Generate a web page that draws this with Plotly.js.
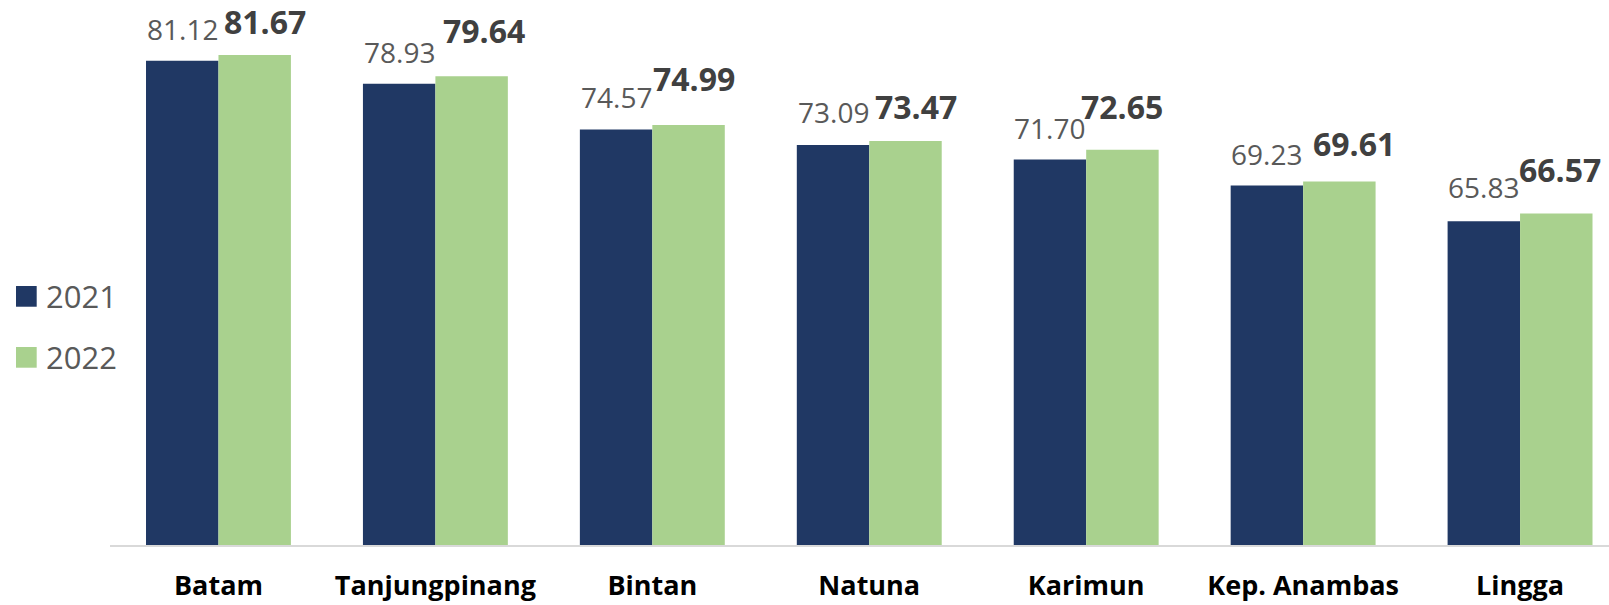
<!DOCTYPE html>
<html>
<head>
<meta charset="utf-8">
<script src="https://cdn.plot.ly/plotly-3.0.1.min.js"></script>
<style>
html,body{margin:0;padding:0;background:#fff;overflow:hidden;}
#chart{width:1609px;height:605px;}
</style>
</head>
<body>
<div id="chart"></div>
<script>
const categories = ['Batam', 'Tanjungpinang', 'Bintan', 'Natuna', 'Karimun', 'Kep. Anambas', 'Lingga'];
const seriesNames = ['2021', '2022'];
const values2021 = [81.12, 78.93, 74.57, 73.09, 71.70, 69.23, 65.83];
const values2022 = [81.67, 79.64, 74.99, 73.47, 72.65, 69.61, 66.57];

// label placement tweaks (pixels), as the labels were hand-placed in the original
const lift2021 = [20, 19.5, 20.5, 21, 20, 20, 22];
const lift2022 = [20, 32.5, 33, 21, 30, 24.7, 31];
const nudge2022 = [10, 12, 5, 11, 0, 15, 4];

const colors = ['#203864', '#A9D18E'];
const FONT = '"Open Sans", "Noto Sans", sans-serif';
const HALF_BAR = 36.2;

const traces = [
  {type: 'bar', name: seriesNames[0], x: categories, y: values2021,
   marker: {color: colors[0]}, hoverinfo: 'x+y'},
  {type: 'bar', name: seriesNames[1], x: categories, y: values2022,
   marker: {color: colors[1]}, hoverinfo: 'x+y'}
];

const annotations = [];
categories.forEach((c, i) => {
  annotations.push({
    x: c, y: values2021[i], xref: 'x', yref: 'y',
    text: values2021[i].toFixed(2), showarrow: false,
    xanchor: 'center', yanchor: 'bottom', xshift: -HALF_BAR, yshift: lift2021[i] - 9.2,
    font: {family: FONT, size: 28, color: '#595959'}
  });
  annotations.push({
    x: c, y: values2022[i], xref: 'x', yref: 'y',
    text: '<b>' + values2022[i].toFixed(2) + '</b>', showarrow: false,
    xanchor: 'center', yanchor: 'bottom', xshift: HALF_BAR + nudge2022[i], yshift: lift2022[i] - 10.4,
    font: {family: FONT, size: 32, color: '#404040'}
  });
});

// custom legend (left side)
const legendY = [0.4562, 0.3443];
const shapes = [];
seriesNames.forEach((n, k) => {
  shapes.push({type: 'rect', xref: 'paper', yref: 'paper',
    x0: -0.0627, x1: -0.0489, y0: legendY[k] - 0.019, y1: legendY[k] + 0.019,
    fillcolor: colors[k], line: {width: 0}});
  annotations.push({xref: 'paper', yref: 'paper', x: -0.0440, y: legendY[k],
    xanchor: 'left', yanchor: 'middle', showarrow: false, text: n,
    font: {family: FONT, size: 31, color: '#595959'}});
});

const layout = {
  width: 1609, height: 605,
  margin: {l: 110, r: 0, t: 0, b: 60, pad: 0},
  paper_bgcolor: '#ffffff', plot_bgcolor: '#ffffff',
  barmode: 'group', bargap: 0.332, bargroupgap: 0,
  showlegend: false,
  xaxis: {
    type: 'category', range: [-0.5, 6.41], fixedrange: true,
    showline: true, linecolor: '#D9D9D9', linewidth: 2,
    showgrid: false, zeroline: false, ticks: '',
    ticklabelstandoff: 16,
    tickfont: {family: FONT, size: 27, color: '#000000', weight: 'bold'}
  },
  yaxis: {
    range: [35, 86.9], fixedrange: true,
    showgrid: false, zeroline: false, showline: false,
    showticklabels: false, ticks: ''
  },
  annotations: annotations,
  shapes: shapes,
  font: {family: FONT}
};

Plotly.newPlot('chart', traces, layout, {displayModeBar: false, staticPlot: true});
</script>
</body>
</html>
